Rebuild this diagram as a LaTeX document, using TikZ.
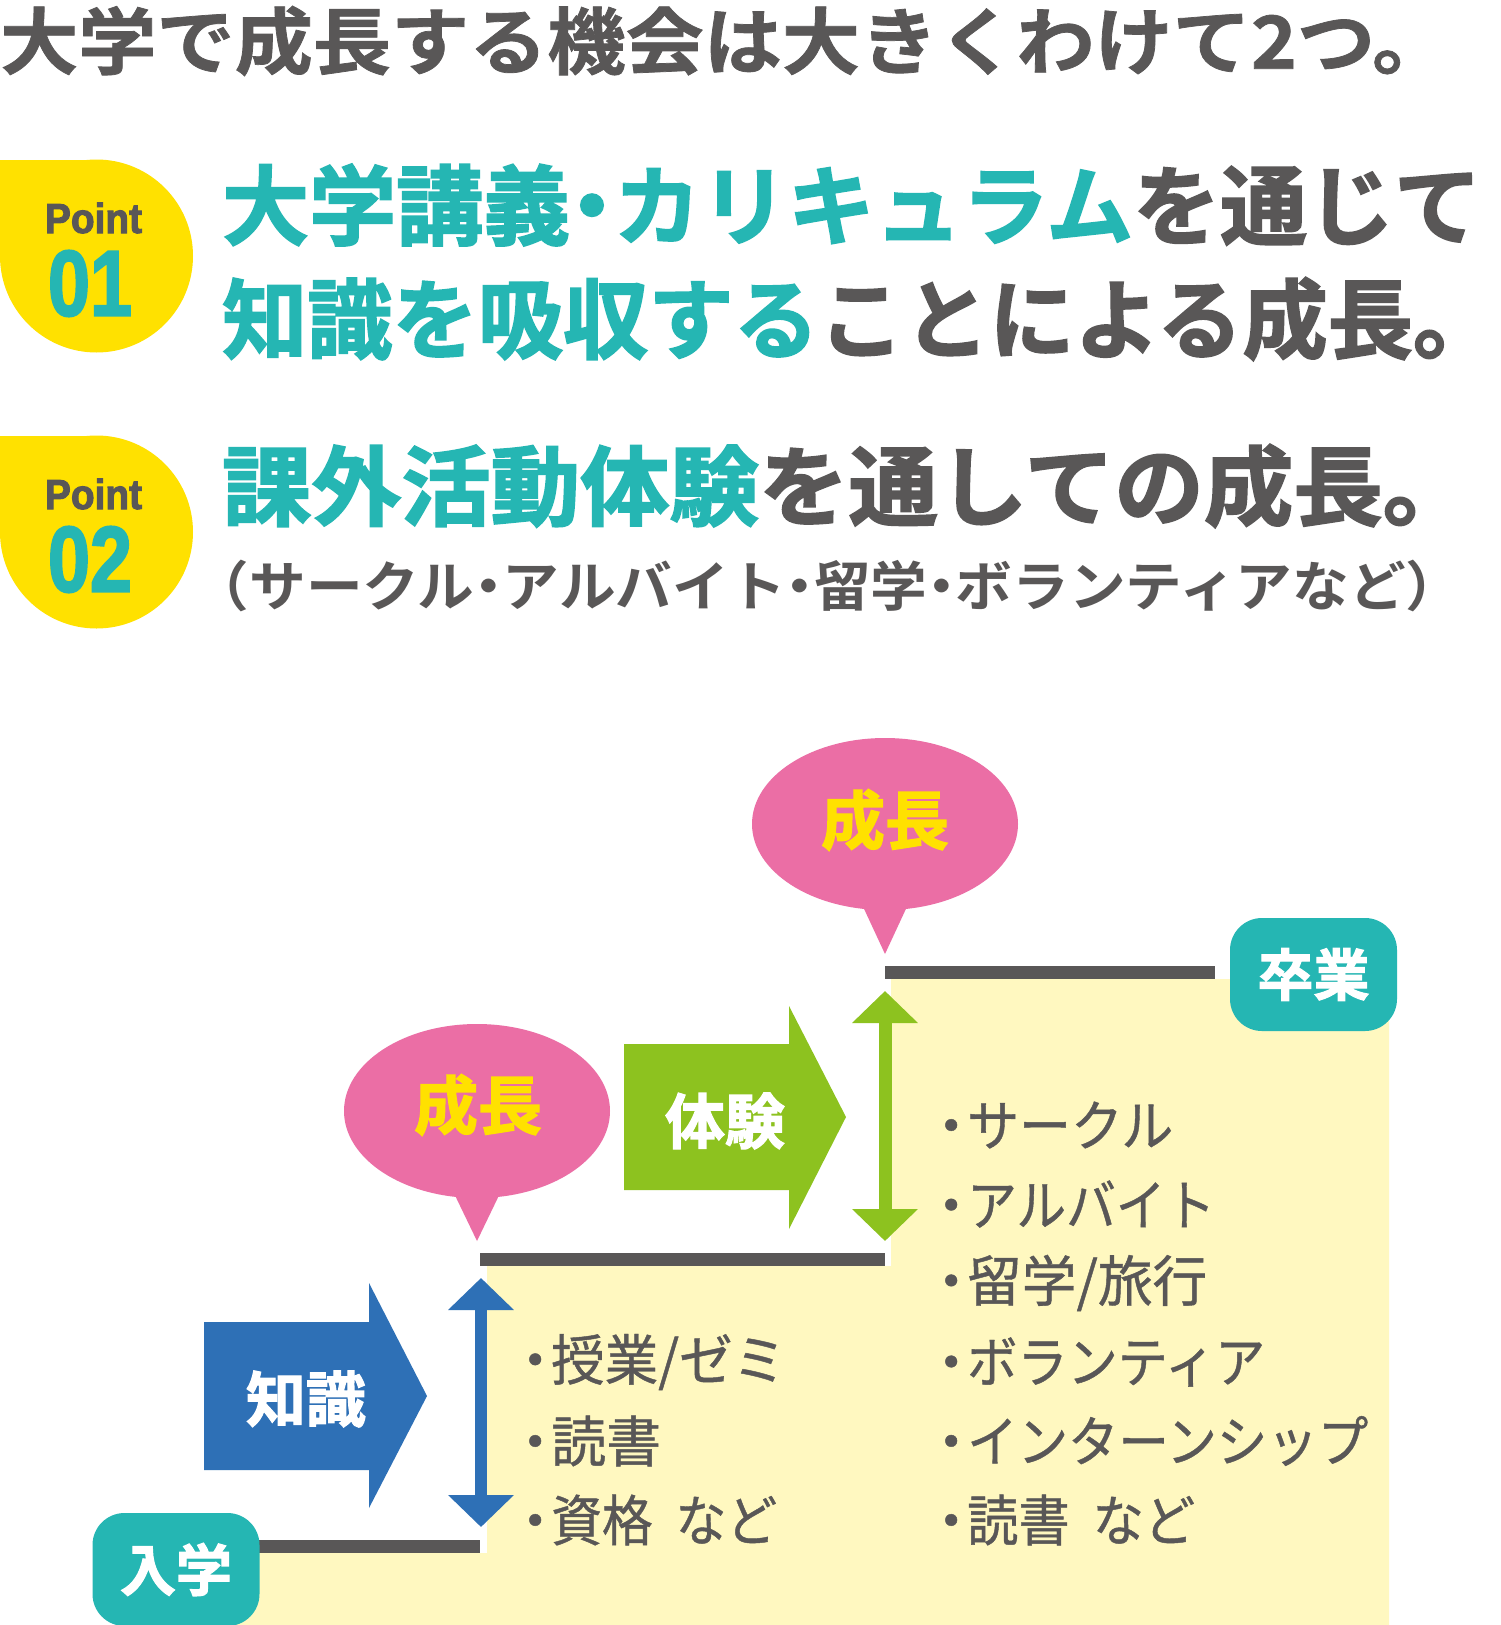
\documentclass[tikz,border=0pt]{standalone}
\usepackage{fontspec}
\usepackage{graphicx}
\usetikzlibrary{arrows.meta}
\newfontfamily\jpb{Noto Sans CJK JP Bold}
\newfontfamily\jpt{Noto Sans CJK JP Bold}[FakeBold=1]
\newfontfamily\jph{Noto Sans CJK JP Bold}[FakeBold=2]
\newfontfamily\jpr{Noto Sans CJK JP}[FakeBold=0.8]
\newfontfamily\ptf{Liberation Sans Bold}[FakeBold=2.5]
\definecolor{cTeal}{RGB}{37,182,179}
\definecolor{cGray}{RGB}{89,87,87}
\definecolor{cYel}{RGB}{255,225,0}
\definecolor{cPink}{RGB}{235,110,165}
\definecolor{cBlue}{RGB}{46,112,182}
\definecolor{cGreen}{RGB}{141,194,31}
\definecolor{cCream}{RGB}{255,248,192}
\newcommand\fitw[2]{\resizebox{#1}{\height}{#2}}
\newcommand\bul{\llap{\makebox[32pt][c]{・}}}
\newcommand\ndot{\makebox[0.5em][c]{・}}
\tikzset{
  txt/.style={anchor=west, inner sep=0pt},
  li/.style={anchor=west, inner sep=0pt, text=cGray, font=\fontsize{55}{55}\jpr},
  stepline/.style={draw=cGray, line width=13pt},
  badge/.style={fill=cTeal, rounded corners=32pt, text=white, inner sep=0pt,
    minimum width=167pt, minimum height=113pt, font=\fontsize{56}{56}\jph},
  bubtext/.style={inner sep=0pt, text=cYel, font=\fontsize{64}{64}\jph},
  arrtext/.style={inner sep=0pt, text=white, font=\fontsize{60}{60}\jph},
  dbl/.style={line width=#1, {Triangle[width=64pt,length=32pt]}-{Triangle[width=64pt,length=32pt]}},
}
\begin{document}
\begin{tikzpicture}[x=1pt,y=-1pt]
\path[use as bounding box, fill=white] (0,0) rectangle (1500,1625);

% title
\node[txt, text=cGray] (title) at (0,41)
  {\fitw{1450pt}{\fontsize{73}{73}\jpt 大学で成長する機会は大きくわけて2つ。}};

% point badges
\fill[cYel] (96.5,256) circle[radius=96.5pt];
\fill[cYel] (0,159.5) rectangle (96.5,256);
\node[inner sep=0pt, text=cGray] (p1lab) at (93.5,218) {\fitw{97pt}{\fontsize{42}{42}\ptf Point}};
\node[inner sep=0pt, text=cTeal] (p1num) at (90,283.5) {\fitw{84pt}{\fontsize{93}{93}\ptf 01}};
\fill[cYel] (96.5,532) circle[radius=96.5pt];
\fill[cYel] (0,435.5) rectangle (96.5,532);
\node[inner sep=0pt, text=cGray] (p2lab) at (93.5,494) {\fitw{97pt}{\fontsize{42}{42}\ptf Point}};
\node[inner sep=0pt, text=cTeal] (p2num) at (90,559.5) {\fitw{84pt}{\fontsize{93}{93}\ptf 02}};

% headings
\node[txt, text=cGray] (h1a) at (222,205)
  {\fitw{1259pt}{\fontsize{87}{87}\jph {\color{cTeal}大学講義\ndot カリキュラム}を通じて}};
\node[txt, text=cGray] (h1b) at (222,319)
  {\fitw{1276pt}{\fontsize{87}{87}\jph {\color{cTeal}知識を吸収する}ことによる成長。}};
\node[txt, text=cGray] (h2a) at (222,486)
  {\fitw{1250pt}{\fontsize{87}{87}\jph {\color{cTeal}課外活動体験}を通しての成長。}};
\node[txt, text=cGray] (h2b) at (221,586)
  {\fitw{1213pt}{\fontsize{54}{54}\jpb \makebox[0.5em][r]{（}サークル\ndot アルバイト\ndot 留学\ndot ボランティアなど\makebox[0.5em][l]{）}}};

% cream stepped area
\fill[cCream] (200,1553) -- (487,1553) -- (487,1266) -- (891,1266) -- (891,979)
  -- (1389,979) -- (1389,1625) -- (200,1625) -- cycle;

% step lines
\coordinate (s0a) at (259,1546.5);
\coordinate (s0b) at (480,1546.5);
\coordinate (s1a) at (480,1259.5);
\coordinate (s1b) at (885,1259.5);
\coordinate (s2a) at (885,972.5);
\coordinate (s2b) at (1215,972.5);
\draw[stepline] (s0a) -- (s0b);
\draw[stepline] (s1a) -- (s1b);
\draw[stepline] (s2a) -- (s2b);

% double arrows
\coordinate (ka) at (481,1527);
\coordinate (kb) at (481,1278);
\coordinate (ta) at (885,1241);
\coordinate (tb) at (885,991);
\draw[cBlue, dbl=12pt] (ka) -- (kb);
\draw[cGreen, dbl=13pt] (ta) -- (tb);

% block arrows
\fill[cBlue] (204,1322) -- (369,1322) -- (369,1283) -- (427,1396) -- (369,1508)
  -- (369,1470) -- (204,1470) -- cycle;
\node[arrtext] (chishiki) at (306,1399) {知識};
\fill[cGreen] (624,1044) -- (789,1044) -- (789,1006) -- (846,1117) -- (789,1229)
  -- (789,1190) -- (624,1190) -- cycle;
\node[arrtext] (taiken) at (725,1121) {体験};

% speech bubbles
\fill[cPink] (477,1111) ellipse[x radius=133pt, y radius=87pt];
\fill[cPink] (450,1185) -- (504,1185) -- (477,1241) -- cycle;
\node[bubtext] (grow1) at (478,1105) {成長};
\fill[cPink] (885,824) ellipse[x radius=133pt, y radius=86pt];
\fill[cPink] (859,898) -- (911,898) -- (885,954) -- cycle;
\node[bubtext] (grow2) at (885,820) {成長};

% badges
\node[badge] (nyu) at (176,1569.5) {入学};
\node[badge] (sotsu) at (1313.5,974.5) {卒業};

% lists
\node[li] (m1) at (551,1362) {\bul\fitw{235pt}{授業/ゼミ}};
\node[li] (m2) at (551,1441) {\bul 読書};
\node[li] (m3) at (551,1520) {\bul\fitw{226pt}{資格\hspace{0.45em}など}};
\node[li] (r1) at (967,1125) {\bul\fitw{206pt}{サークル}};
\node[li] (r2) at (967,1204) {\bul\fitw{248pt}{アルバイト}};
\node[li] (r3) at (967,1283) {\bul\fitw{240pt}{留学/旅行}};
\node[li] (r4) at (967,1362) {\bul\fitw{298pt}{ボランティア}};
\node[li] (r5) at (967,1441) {\bul\fitw{401pt}{インターンシップ}};
\node[li] (r6) at (967,1520) {\bul\fitw{228pt}{読書\hspace{0.45em}など}};
\end{tikzpicture}
\end{document}
